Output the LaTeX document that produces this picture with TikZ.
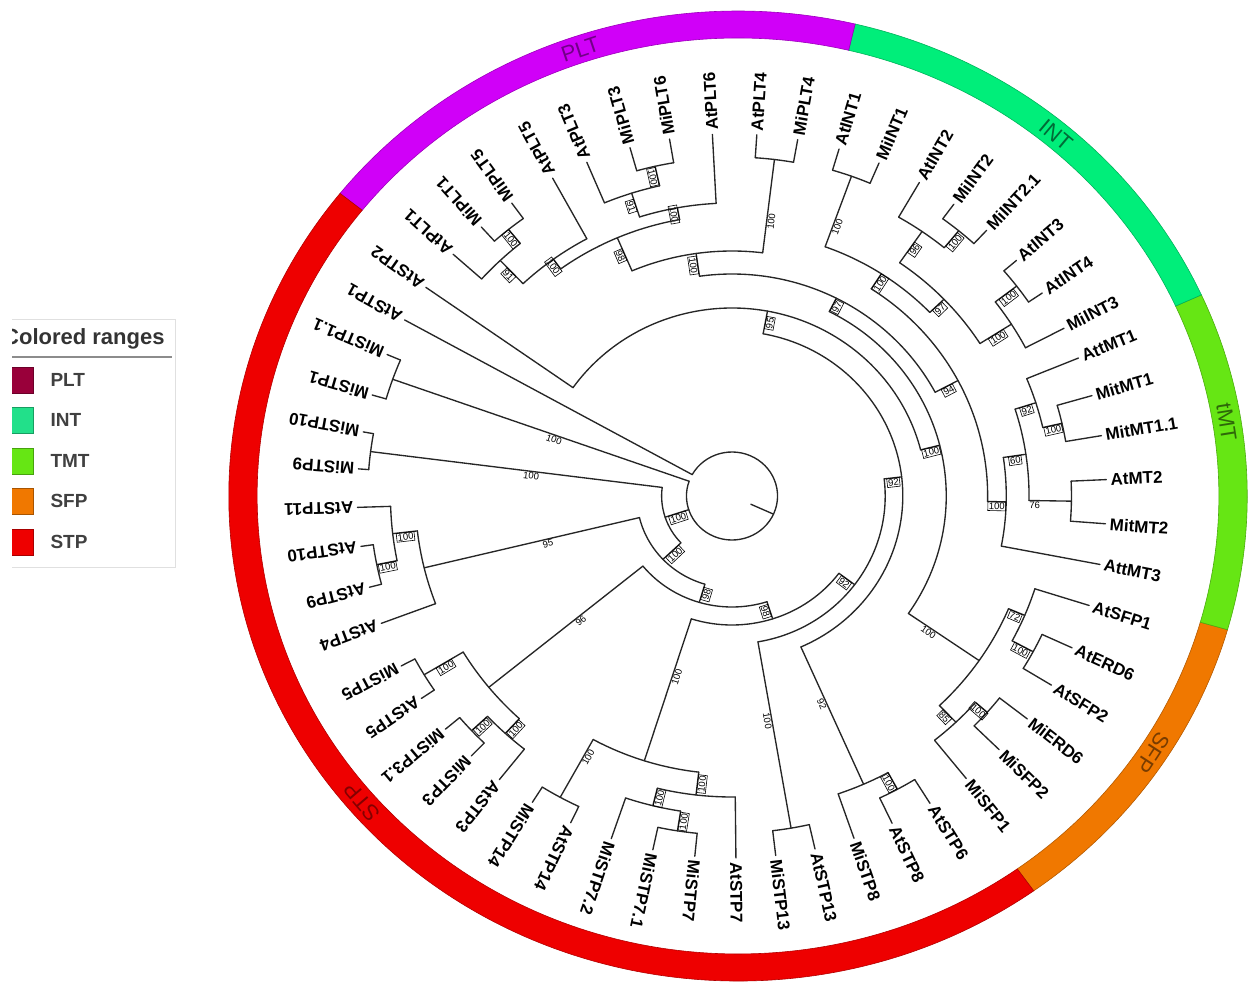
\documentclass[tikz,border=0pt]{standalone}
\usepackage{fontspec}
\setmainfont{Liberation Sans}
\definecolor{cPLT}{HTML}{D000F8}
\definecolor{cINT}{HTML}{00EE7A}
\definecolor{cTMT}{HTML}{66E614}
\definecolor{cSFP}{HTML}{F07800}
\definecolor{cSTP}{HTML}{EE0000}
\definecolor{lPLT}{HTML}{99003A}
\definecolor{lINT}{HTML}{22E08A}
\begin{document}
\begin{tikzpicture}[x=1pt,y=1pt,
  br/.style={line width=1.35pt, black!85, line cap=round},
  leaf/.style={font=\bfseries\fontsize{17}{17}\selectfont, anchor=west, inner sep=0pt},
  bsl/.style={font=\fontsize{9.5}{10}\selectfont, inner sep=1pt, anchor=north},
  bsbox/.style={bsl, draw, line width=0.6pt},
  ringlab/.style={font=\fontsize{22}{22}\selectfont},
  legtext/.style={font=\bfseries\fontsize{19}{19}\selectfont, text=black!75, anchor=west},
]
\useasboundingbox (0,0) rectangle (1255,-982);
% ---------------- ring
\begin{scope}[shift={(738,-496)}, x=1.05pt, y=1pt]
 \foreach \a/\b/\c in {-54.5/-16/cSFP, -16/24.5/cTMT, 24.5/76.7/cINT, 76.7/141.4/cPLT, 141.4/305.5/cSTP}{
   \fill[\c, draw=\c!75!black, line width=0.6pt] (\a:458) arc[start angle=\a, end angle=\b, radius=458] -- (\b:485) arc[start angle=\b, end angle=\a, radius=485] -- cycle;
 }
 \node[ringlab, text=cPLT!55!black, rotate=18.6] (rPLT) at (108.6:471) {PLT};
 \node[ringlab, text=cINT!45!black, rotate=-40] (rINT) at (50:471) {INT};
 \node[ringlab, text=cTMT!45!black, rotate=-81] (rTMT) at (9:471) {tMT};
 \node[ringlab, text=cSFP!50!black, rotate=-123] (rSFP) at (-33:471) {SFP};
 \node[ringlab, text=cSTP!55!black, rotate=130.5] (rSTP) at (220.5:471) {STP};
\end{scope}
% ---------------- legend
\begin{scope}
 \clip (12,-300) rectangle (200,-600);
 \draw[black!12, line width=1pt] (5,-319) rectangle (175,-567);
 \node[anchor=west, font=\bfseries\fontsize{22}{22}\selectfont, text=black!80, inner sep=0pt] (legtitle) at (3,-339) {Colored ranges};
 \draw[black!45, line width=1.6pt] (5,-357) -- (172,-357);
 \foreach \y/\c/\t in {380/lPLT/PLT, 420/lINT/INT, 461/cTMT/TMT, 501/cSFP/SFP, 542/cSTP/STP}{
   \fill[\c, draw=\c!70!black, line width=0.8pt] (2,-\y+13) rectangle (33,-\y-13);
   \node[legtext] (leg\t) at (47,-\y) {\t};
 }
\end{scope}
% ---------------- tree
\begin{scope}[shift={(732,-496)}, x=1.035pt, y=1pt]
 % root
 \coordinate (root) at (-24.35:44);
 \draw[br] (150.9:44) arc[start angle=150.9, end angle=-199.6, radius=44];
 \draw[br] (-24.35:20) -- (root);
 % internal nodes: name/angle/r/parent r/arc from/arc to/bootstrap/boxed
 \foreach \n/\t/\r/\p/\a/\b/\v/\bx in {
  p1/129.0/343/325/132.0/126.0/100/1,
  p2/133.55/325/293/138.1/129.0/91/1,
  p3/126.075/293/281/133.55/118.6/100/1,
  p4/102.7/338/318/105.8/99.6/100/1,
  p5/107.75/318/293/112.8/102.7/91/1,
  p6/100.375/293/281/107.75/93.0/100/1,
  p7/113.225/281/245/126.075/100.375/98/1,
  p8/83.05/339/245/86.2/79.9/100/0,
  p9/98.1375/245/222/113.225/83.05/100/1,
  i1/70.15/340/265/73.4/66.9/100/0,
  i2/50.45/344/322/53.7/47.2/100/1,
  i3/55.225/322/284/60.0/50.45/96/1,
  i4/37.35/346/320/40.6/34.1/100/1,
  i5/32.475/320/284/37.35/27.6/100/1,
  i6/43.85/284/265/55.225/32.475/97/1,
  i7/57.0/265/247/70.15/43.85/100/1,
  t1/12.85/327/308/16.1/9.6/100/1,
  t2/17.625/308/287/22.4/12.85/92/1,
  t3/-0.9/328/287/2.6/-4.4/76/0,
  t4/8.3625/287/265/17.625/-0.9/60/1,
  t5/-1.27/265/247/8.3625/-10.9/100/1,
  t6/27.865/247/222/57.0/-1.27/94/1,
  t7/63.0/222/207/98.1375/27.865/97/1,
  s1/-28.15/330/307/-24.8/-31.5/100/1,
  s2/-22.875/307/290/-17.6/-28.15/72/1,
  s3/-41.25/328/313/-38.0/-44.5/100/1,
  s4/-46.275/313/290/-41.25/-51.3/85/1,
  s5/-34.575/290/207/-22.875/-46.275/100/0,
  t8/14.21/207/188/63.0/-34.575/100/1,
  t9/79.5/188/165/144.8/14.21/95/1,
  b1/-61.4/334/315/-58.1/-64.7/100/1,
  b2/-66.2/315/165/-61.4/-71.0/92/0,
  t10/6.65/165/148/79.5/-66.2/92/1,
  b3/-80.25/337/148/-77.2/-83.3/100/0,
  t11/-36.8/148/129/6.65/-80.25/92/1,
  b4/-98.95/339/319/-95.7/-102.2/100/1,
  b5/-103.875/319/301/-98.95/-108.8/100/1,
  b6/-96.64/301/278/-89.4/-103.875/100/1,
  b7/-118.85/344/278/-115.5/-122.2/100/0,
  b8/-107.74/278/129/-96.64/-118.85/100/0,
  t12/-72.27/129/111/-36.8/-107.74/98/1,
  b9/-149/347/303/-146/-152/100/1,
  b10/-137/344/323/-134.1/-139.9/100/1,
  b11/-132.7/323/303/-128.4/-137/100/1,
  b12/-140.85/303/111/-132.7/-149/96/0,
  t13/-106.56/111/92/-72.27/-140.85/98/1,
  b13/-168.7/350/330/-165.4/-172/100/1,
  b14/-173.45/330/306/-168.7/-178.2/100/1,
  b15/-166.425/306/92/-159.4/-173.45/95/0,
  y1/-136.49/92/68/-106.56/-166.425/100/1,
  m910/-187.25/352/68/-184.3/-190.2/100/0,
  s1b/-199.6/348/44/-196.2/-203.0/100/0,
  z1/-161.87/68/44/-136.49/-187.25/100/1}{
   \coordinate (\n) at (\t:\r);
   \draw[br] (\t:\p) -- (\n);
   \draw[br] (\a:\r) arc[start angle=\a, end angle=\b, radius=\r];
   \pgfmathsetmacro\rot{cos(\t)>=0 ? \t : \t+180}
   \ifnum\bx=1
     \pgfmathsetmacro\m{(\r+\p)/2}
     \node[bsbox, rotate=\rot] (bs\n) at (\t:\m) {\v};
   \else
     \pgfmathsetmacro\m{(\r+\p)/2-15}
     \node[bsl, rotate=\rot] (bs\n) at (\t:\m) {\v};
   \fi
 }
 % leaves: name/angle/parent r/label
 \foreach \n/\t/\p/\lab in {
  l1/138.1/325/AtPLT1, l2/132.0/343/MiPLT1, l3/126.0/343/MiPLT5, l4/118.6/293/AtPLT5,
  l5/112.8/318/AtPLT3, l6/105.8/338/MiPLT3, l7/99.6/338/MiPLT6, l8/93.0/293/AtPLT6,
  l9/86.2/339/AtPLT4, l10/79.9/339/MiPLT4, l11/73.4/340/AtINT1, l12/66.9/340/MiINT1,
  l13/60.0/322/AtINT2, l14/53.7/344/MiINT2, l15/47.2/344/MiINT2.1, l16/40.6/346/AtINT3,
  l17/34.1/346/AtINT4, l18/27.6/320/MiINT3, l19/22.4/308/AttMT1, l20/16.1/327/MitMT1,
  l21/9.6/327/MitMT1.1, l22/2.6/328/AtMT2, l23/-4.4/328/MitMT2, l24/-10.9/265/AttMT3,
  l25/-17.6/307/AtSFP1, l26/-24.8/330/AtERD6, l27/-31.5/330/AtSFP2, l28/-38.0/328/MiERD6,
  l29/-44.5/328/MiSFP2, l30/-51.3/313/MiSFP1, l31/-58.1/334/AtSTP6, l32/-64.7/334/AtSTP8,
  l33/-71.0/315/MiSTP8, l34/-77.2/337/AtSTP13, l35/-83.3/337/MiSTP13, l36/-89.4/301/AtSTP7,
  l37/-95.7/339/MiSTP7, l38/-102.2/339/MiSTP7.1, l39/-108.8/319/MiSTP7.2, l40/-115.5/344/AtSTP14,
  l41/-122.2/344/MiSTP14, l42/-128.4/323/AtSTP3, l43/-134.1/344/MiSTP3, l44/-139.9/344/MiSTP3.1,
  l45/-146.0/347/AtSTP5, l46/-152.0/347/MiSTP5, l47/-159.4/306/AtSTP4, l48/-165.4/350/AtSTP9,
  l49/-172.0/350/AtSTP10, l50/-178.2/330/AtSTP11, l51/-184.3/352/MiSTP9, l52/-190.2/352/MiSTP10,
  l53/-196.2/348/MiSTP1, l54/-203.0/348/MiSTP1.1, l55/-209.1/44/AtSTP1, l56/-215.2/188/AtSTP2}{
   \draw[br] (\t:\p) -- (\t:362);
   \node[leaf, rotate=\t] (\n) at (\t:366) {\lab};
 }
\end{scope}
\end{tikzpicture}
\end{document}
